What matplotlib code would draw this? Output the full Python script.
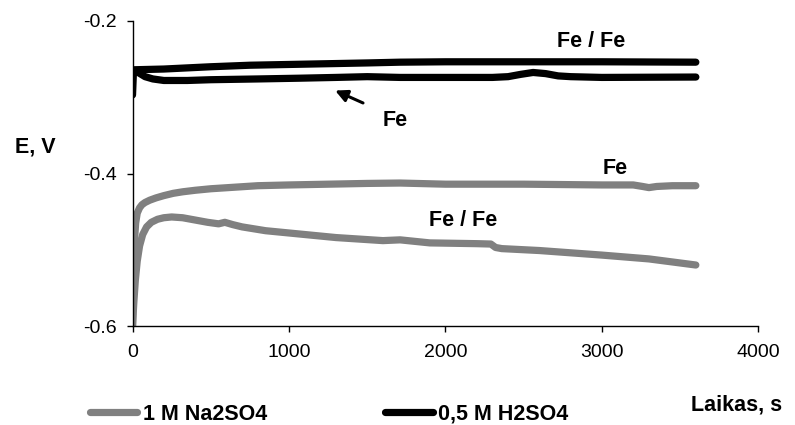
import matplotlib
matplotlib.use("Agg")
import matplotlib.pyplot as plt

plt.rcParams['font.family'] = ['Liberation Sans', 'DejaVu Sans']

# Time (s) and potential (V) series
t_na_fe = [0, 5, 12, 20, 30, 45, 60, 80, 110, 150, 200, 260, 320, 400, 500, 650, 800, 1000, 1250, 1500,
           1710, 2000, 2500, 3000, 3200, 3260, 3300, 3350, 3450, 3600]
e_na_fe = [-0.600, -0.540, -0.490, -0.465, -0.452, -0.445, -0.441, -0.438, -0.435, -0.432, -0.429, -0.426,
           -0.424, -0.422, -0.420, -0.418, -0.416, -0.415, -0.414, -0.413, -0.4125, -0.414, -0.414, -0.415,
           -0.415, -0.417, -0.4185, -0.417, -0.416, -0.416]

t_na_fefe = [0, 8, 18, 30, 45, 65, 90, 120, 160, 200, 250, 320, 400, 480, 550, 590, 640, 700, 850, 1000,
             1300, 1600, 1710, 1900, 2200, 2290, 2320, 2360, 2600, 3000, 3300, 3600]
e_na_fefe = [-0.600, -0.570, -0.540, -0.515, -0.495, -0.480, -0.470, -0.464, -0.460, -0.458, -0.457,
             -0.458, -0.461, -0.464, -0.466, -0.464, -0.467, -0.470, -0.475, -0.478, -0.484, -0.488,
             -0.487, -0.491, -0.492, -0.4925, -0.497, -0.4985, -0.501, -0.507, -0.512, -0.520]

t_h_fefe = [0, 200, 500, 750, 1000, 1500, 1710, 2000, 3000, 3600]
e_h_fefe = [-0.264, -0.263, -0.260, -0.258, -0.257, -0.255, -0.254, -0.2535, -0.2535, -0.254]

t_h_fe = [0, 6, 15, 40, 80, 130, 200, 350, 500, 800, 1070, 1300, 1500, 1710, 2000, 2300, 2400, 2480,
          2560, 2640, 2720, 2800, 3000, 3600]
e_h_fe = [-0.297, -0.266, -0.265, -0.268, -0.273, -0.276, -0.278, -0.278, -0.277, -0.276, -0.275,
          -0.274, -0.273, -0.274, -0.274, -0.274, -0.273, -0.270, -0.2675, -0.269, -0.272, -0.273,
          -0.274, -0.2735]

x_ticks = [0, 1000, 2000, 3000, 4000]
y_ticks = [-0.6, -0.4, -0.2]
y_tick_labels = ['-0.6', '-0.4', '-0.2']

GRAY = '#808080'
BLACK = '#000000'

fig = plt.figure(figsize=(7.95, 4.25), dpi=100)
ax = fig.add_axes([0.1667, 0.2329, 0.954 - 0.1667, 0.9506 - 0.2329])

lw = 5.2
kw = dict(lw=lw, solid_capstyle='round', solid_joinstyle='round')
l1, = ax.plot(t_na_fe, e_na_fe, color=GRAY, **kw)
ax.plot(t_na_fefe, e_na_fefe, color=GRAY, **kw)
l2, = ax.plot(t_h_fefe, e_h_fefe, color=BLACK, **kw)
ax.plot(t_h_fe, e_h_fe, color=BLACK, **kw)

ax.set_xlim(0, 4000)
ax.set_ylim(-0.6, -0.2)
ax.set_xticks(x_ticks)
ax.set_yticks(y_ticks)
ax.set_yticklabels(y_tick_labels)
for s in ['top', 'right']:
    ax.spines[s].set_visible(False)
for s in ['left', 'bottom']:
    ax.spines[s].set_linewidth(1.0)
    ax.spines[s].set_color('black')
ax.tick_params(axis='both', direction='out', length=4, width=1.0, labelsize=14)
ax.tick_params(axis='y', pad=7)
ax.tick_params(axis='x', pad=9)

tk = dict(fontsize=15.5, fontweight='bold', ha='center', va='center')
ax.text(2930, -0.2275, 'Fe / Fe', **tk)
ax.text(1677, -0.330, 'Fe', **tk)
ax.text(3083, -0.393, 'Fe', **tk)
ax.text(2112, -0.461, 'Fe / Fe', **tk)
ax.annotate('', xy=(1295, -0.2912), xytext=(1473, -0.3075),
            arrowprops=dict(arrowstyle='-|>', color='black', lw=2.2, mutation_scale=18,
                            shrinkA=0, shrinkB=0))

fig.text(35 / 795, 1 - 147 / 425, 'E, V', fontsize=15.5, fontweight='bold', ha='center', va='center')
fig.text(737 / 795, 1 - 405 / 425, 'Laikas, s', fontsize=15.5, fontweight='bold', ha='center', va='center')

leg = fig.legend([l1, l2], ['1 M Na2SO4', '0,5 M H2SO4'], ncol=2, frameon=False,
                 loc='center left', bbox_to_anchor=(90 / 795, 1 - 414 / 425),
                 prop=dict(size=15.5, weight='bold'), handlelength=2.2, handletextpad=0.25,
                 columnspacing=5.5, borderaxespad=0, borderpad=0)

fig.savefig('out.png', dpi=100)
